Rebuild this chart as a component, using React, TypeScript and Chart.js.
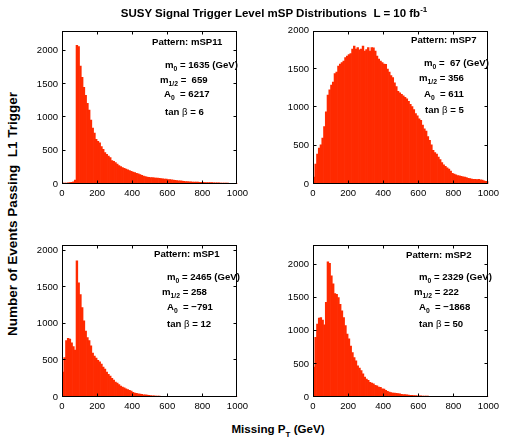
import React, { useEffect, useRef } from 'react';
import { Chart, registerables } from 'chart.js';

Chart.register(...registerables);

// ---------------- data ----------------
const BIN_WIDTH = 10; // GeV
const X_MIN = 0;
const X_MAX = 1000;
const xTickValues = [0, 200, 400, 600, 800, 1000];
const yTickValues = [0, 500, 1000, 1500, 2000];

// Missing PT histograms, 10 GeV bins from 0 to 1000 GeV
const mSP11Counts = [
  12, 14, 15, 18, 20, 26, 34, 60, 2080, 2060,
  1770, 1600, 1450, 1330, 1210, 1110, 960, 840, 765, 670,
  640, 618, 560, 520, 470, 446, 420, 397, 350, 340,
  323, 300, 275, 260, 245, 235, 225, 212, 200, 191,
  180, 170, 160, 152, 140, 130, 120, 110, 103, 100,
  98, 95, 92, 90, 88, 85, 82, 78, 75, 72,
  68, 65, 62, 58, 55, 52, 49, 46, 43, 40,
  38, 36, 34, 32, 30, 29, 28, 27, 26, 25,
  24, 23, 22, 21, 20, 20, 19, 18, 17, 16,
  15, 14, 13, 12, 12, 11, 11, 10, 10, 9,
];

const mSP7Counts = [
  90, 260, 390, 470, 510, 600, 750, 940, 1160, 1230,
  1290, 1330, 1440, 1460, 1540, 1565, 1585, 1605, 1650, 1670,
  1690, 1700, 1760, 1800, 1760, 1780, 1750, 1760, 1800, 1735,
  1755, 1780, 1735, 1780, 1775, 1735, 1670, 1630, 1605, 1585,
  1565, 1560, 1500, 1460, 1415, 1390, 1320, 1270, 1210, 1190,
  1170, 1150, 1130, 1110, 1080, 1040, 1010, 970, 920, 890,
  850, 830, 770, 720, 690, 620, 570, 510, 440, 410,
  390, 350, 320, 280, 250, 230, 210, 195, 170, 140,
  130, 120, 110, 105, 100, 95, 90, 85, 75, 70,
  65, 60, 60, 58, 60, 55, 50, 40, 35, 30,
];

const mSP1Counts = [
  340, 540, 770, 800, 790, 740, 690, 640, 1860, 1560,
  1400, 1220, 1040, 900, 810, 770, 700, 600, 560, 530,
  500, 480, 450, 410, 380, 340, 310, 285, 255, 230,
  205, 190, 170, 150, 135, 125, 110, 100, 90, 80,
  65, 55, 50, 45, 40, 35, 30, 28, 25, 22,
  18, 16, 15, 14, 13, 12, 10, 10, 9, 8,
  8, 7, 7, 6, 6, 5, 5, 5, 4, 4,
  4, 4, 3, 3, 3, 3, 3, 2, 2, 2,
  2, 2, 2, 2, 2, 1, 1, 1, 1, 1,
  1, 1, 1, 1, 1, 1, 1, 1, 1, 1,
];

const mSP2Counts = [
  450, 900, 1100, 1190, 1200, 1160, 1090, 1430, 2040, 2020,
  1830, 1710, 1560, 1550, 1500, 1400, 1300, 1200, 1080, 950,
  880, 770, 670, 595, 545, 470, 435, 400, 350, 300,
  272, 250, 223, 210, 198, 175, 170, 150, 145, 125,
  120, 100, 85, 75, 65, 60, 58, 55, 50, 48,
  42, 38, 35, 32, 28, 26, 24, 22, 20, 18,
  17, 16, 15, 14, 14, 13, 12, 12, 11, 11,
  10, 10, 9, 9, 9, 8, 8, 8, 7, 7,
  7, 6, 6, 6, 6, 5, 5, 5, 5, 4,
  4, 4, 4, 4, 3, 3, 3, 3, 3, 3,
];

const patternNames = ['mSP11', 'mSP7', 'mSP1', 'mSP2'];
const m0Values = ['1635', ' 67', '2465', '2329'];
const mHalfValues = [' 659', '356', '258', '222'];
const a0Values = ['6217', '611', '\u2212791', '\u22121868'];
const tanBetaValues = ['6', '5', '12', '50'];
const yMaxValues = [2300, 2000, 2080, 2300];
const seriesCounts = [mSP11Counts, mSP7Counts, mSP1Counts, mSP2Counts];

const titleText = 'SUSY Signal Trigger Level mSP Distributions  L = 10 fb';
const titleSup = '-1';
const xLabelMain = 'Missing P';
const xLabelSub = 'T';
const xLabelTail = ' (GeV)';
const yLabelText = 'Number of Events Passing  L1 Trigger';

// ---------------- styling / layout ----------------
const FONT = '"Liberation Sans", Arial, Helvetica, sans-serif';
const RED = '#ff2a00';
const YW = 40; // y-axis band width in canvas
const PT = 8; // top padding
const PR = 8; // right padding
const XH = 22; // x-axis band height

const PANEL_BOXES = [
  { left: 62, top: 29, width: 182, height: 155 },
  { left: 313, top: 29, width: 182, height: 155 },
  { left: 62, top: 243, width: 182, height: 154 },
  { left: 313, top: 243, width: 182, height: 154 },
];

// annotation layout: left x of each line and vertical centre (page coords)
const ANN_LAYOUT = [
  { xs: [152, 165, 160, 164, 165], ys: [42, 65, 80, 94, 112] },
  { xs: [411, 424, 419, 424, 425], ys: [40, 63, 78, 94, 110] },
  { xs: [154, 167, 162, 167, 167], ys: [254, 277, 292, 307, 324] },
  { xs: [406, 419, 414, 419, 419], ys: [255, 277, 292, 307, 324] },
];

const boxPlugin = {
  id: 'matlabBox',
  afterDraw(chart: any) {
    const { ctx, chartArea: a, scales } = chart;
    const L = Math.round(a.left) + 0.5;
    const R = Math.round(a.right) - 0.5;
    const T = Math.round(a.top) + 0.5;
    const B = Math.round(a.bottom) - 0.5;
    const len = 3;
    ctx.save();
    ctx.strokeStyle = '#000';
    ctx.lineWidth = 1;
    ctx.strokeRect(L, T, R - L, B - T);
    ctx.beginPath();
    scales.x.ticks.forEach((t: any) => {
      let p = Math.round(scales.x.getPixelForValue(t.value)) + 0.5;
      p = Math.min(Math.max(p, L), R);
      ctx.moveTo(p, B);
      ctx.lineTo(p, B - len);
      ctx.moveTo(p, T);
      ctx.lineTo(p, T + len);
    });
    scales.y.ticks.forEach((t: any) => {
      let p = Math.round(scales.y.getPixelForValue(t.value)) - 0.5;
      p = Math.min(Math.max(p, T), B);
      ctx.moveTo(L, p);
      ctx.lineTo(L + len, p);
      ctx.moveTo(R, p);
      ctx.lineTo(R - len, p);
    });
    ctx.stroke();
    ctx.restore();
  },
};

function HistPanel({ idx }: { idx: number }) {
  const ref = useRef<HTMLCanvasElement>(null);
  const box = PANEL_BOXES[idx];
  const cw = YW + box.width + PR;
  const ch = PT + box.height + XH;

  useEffect(() => {
    const counts = seriesCounts[idx];
    const points = counts.map((c, i) => ({ x: X_MIN + BIN_WIDTH * (i + 0.5), y: c }));
    const tickFont = { family: FONT, size: 9.5 };
    const chart = new Chart(ref.current as HTMLCanvasElement, {
      type: 'bar',
      data: {
        datasets: [
          {
            data: points as any,
            backgroundColor: RED,
            borderWidth: 0,
            barPercentage: 1,
            categoryPercentage: 1,
          },
        ],
      },
      options: {
        animation: false,
        responsive: false,
        maintainAspectRatio: false,
        events: [],
        layout: { padding: { top: PT, right: PR, left: 0, bottom: 0 }, autoPadding: false } as any,
        plugins: { legend: { display: false }, tooltip: { enabled: false }, title: { display: false } },
        scales: {
          x: {
            type: 'linear',
            min: X_MIN,
            max: X_MAX,
            offset: false,
            grid: { display: false, drawTicks: false, offset: false } as any,
            border: { display: false },
            ticks: {
              color: '#000',
              font: tickFont,
              padding: 4,
              maxRotation: 0,
              autoSkip: false,
              callback: (v: any) => String(v),
            },
            afterBuildTicks: (s: any) => {
              s.ticks = xTickValues.map((v) => ({ value: v }));
            },
            afterFit: (s: any) => {
              s.height = XH;
            },
          },
          y: {
            type: 'linear',
            min: 0,
            max: yMaxValues[idx],
            grid: { display: false, drawTicks: false },
            border: { display: false },
            ticks: {
              color: '#000',
              font: tickFont,
              padding: 4,
              autoSkip: false,
              callback: (v: any) => String(v),
            },
            afterBuildTicks: (s: any) => {
              s.ticks = yTickValues.map((v) => ({ value: v }));
            },
            afterFit: (s: any) => {
              s.width = YW;
            },
          },
        },
      },
      plugins: [boxPlugin],
    });
    return () => chart.destroy();
  }, [idx]);

  return (
    <canvas
      ref={ref}
      width={cw}
      height={ch}
      style={{ position: 'absolute', left: box.left - YW, top: box.top - PT, width: cw, height: ch }}
    />
  );
}

const annFont: React.CSSProperties = {
  position: 'absolute',
  fontFamily: FONT,
  fontWeight: 'bold',
  fontSize: '9.6px',
  lineHeight: '12px',
  whiteSpace: 'pre',
  color: '#000',
};
const subStyle: React.CSSProperties = { fontSize: '6.8px', position: 'relative', top: '3px' };

function Annotation({ idx }: { idx: number }) {
  const lay = ANN_LAYOUT[idx];
  const lines: React.ReactNode[] = [
    <>Pattern: {patternNames[idx]}</>,
    <>m<span style={subStyle}>0</span>{' = ' + m0Values[idx] + ' (GeV)'}</>,
    <>m<span style={subStyle}>1/2</span>{' = ' + mHalfValues[idx]}</>,
    <>A<span style={subStyle}>0</span>{'  = ' + a0Values[idx]}</>,
    <>tan <span style={{ fontWeight: 'normal' }}>{'\u03b2'}</span>{' = ' + tanBetaValues[idx]}</>,
  ];
  return (
    <>
      {lines.map((ln, i) => (
        <div key={i} style={{ ...annFont, left: lay.xs[i], top: lay.ys[i] - 6.5 }}>
          {ln}
        </div>
      ))}
    </>
  );
}

export default function App() {
  return (
    <div
      style={{
        position: 'absolute',
        left: 0,
        top: 0,
        width: 508,
        height: 441,
        background: '#fff',
        overflow: 'hidden',
      }}
    >
      {[0, 1, 2, 3].map((i) => (
        <HistPanel key={'p' + i} idx={i} />
      ))}
      {[0, 1, 2, 3].map((i) => (
        <Annotation key={'a' + i} idx={i} />
      ))}
      <div
        style={{
          position: 'absolute',
          left: 0,
          width: 548,
          top: 6,
          textAlign: 'center',
          fontFamily: FONT,
          fontWeight: 'bold',
          fontSize: '11.5px',
          lineHeight: '14px',
          whiteSpace: 'pre',
        }}
      >
        {titleText}
        <span style={{ fontSize: '8px', position: 'relative', top: '-5px' }}>{titleSup}</span>
      </div>
      <div
        style={{
          position: 'absolute',
          left: 0,
          width: 556,
          top: 422,
          textAlign: 'center',
          fontFamily: FONT,
          fontWeight: 'bold',
          fontSize: '11.6px',
          lineHeight: '14px',
          whiteSpace: 'pre',
        }}
      >
        {xLabelMain}
        <span style={{ fontSize: '8px', position: 'relative', top: '4px' }}>{xLabelSub}</span>
        {xLabelTail}
      </div>
      <div
        style={{
          position: 'absolute',
          left: 13 - 150,
          top: 214 - 8,
          width: 300,
          height: 16,
          lineHeight: '16px',
          textAlign: 'center',
          fontFamily: FONT,
          fontWeight: 'bold',
          fontSize: '13.5px',
          whiteSpace: 'pre',
          transform: 'rotate(-90deg)',
        }}
      >
        {yLabelText}
      </div>
    </div>
  );
}
